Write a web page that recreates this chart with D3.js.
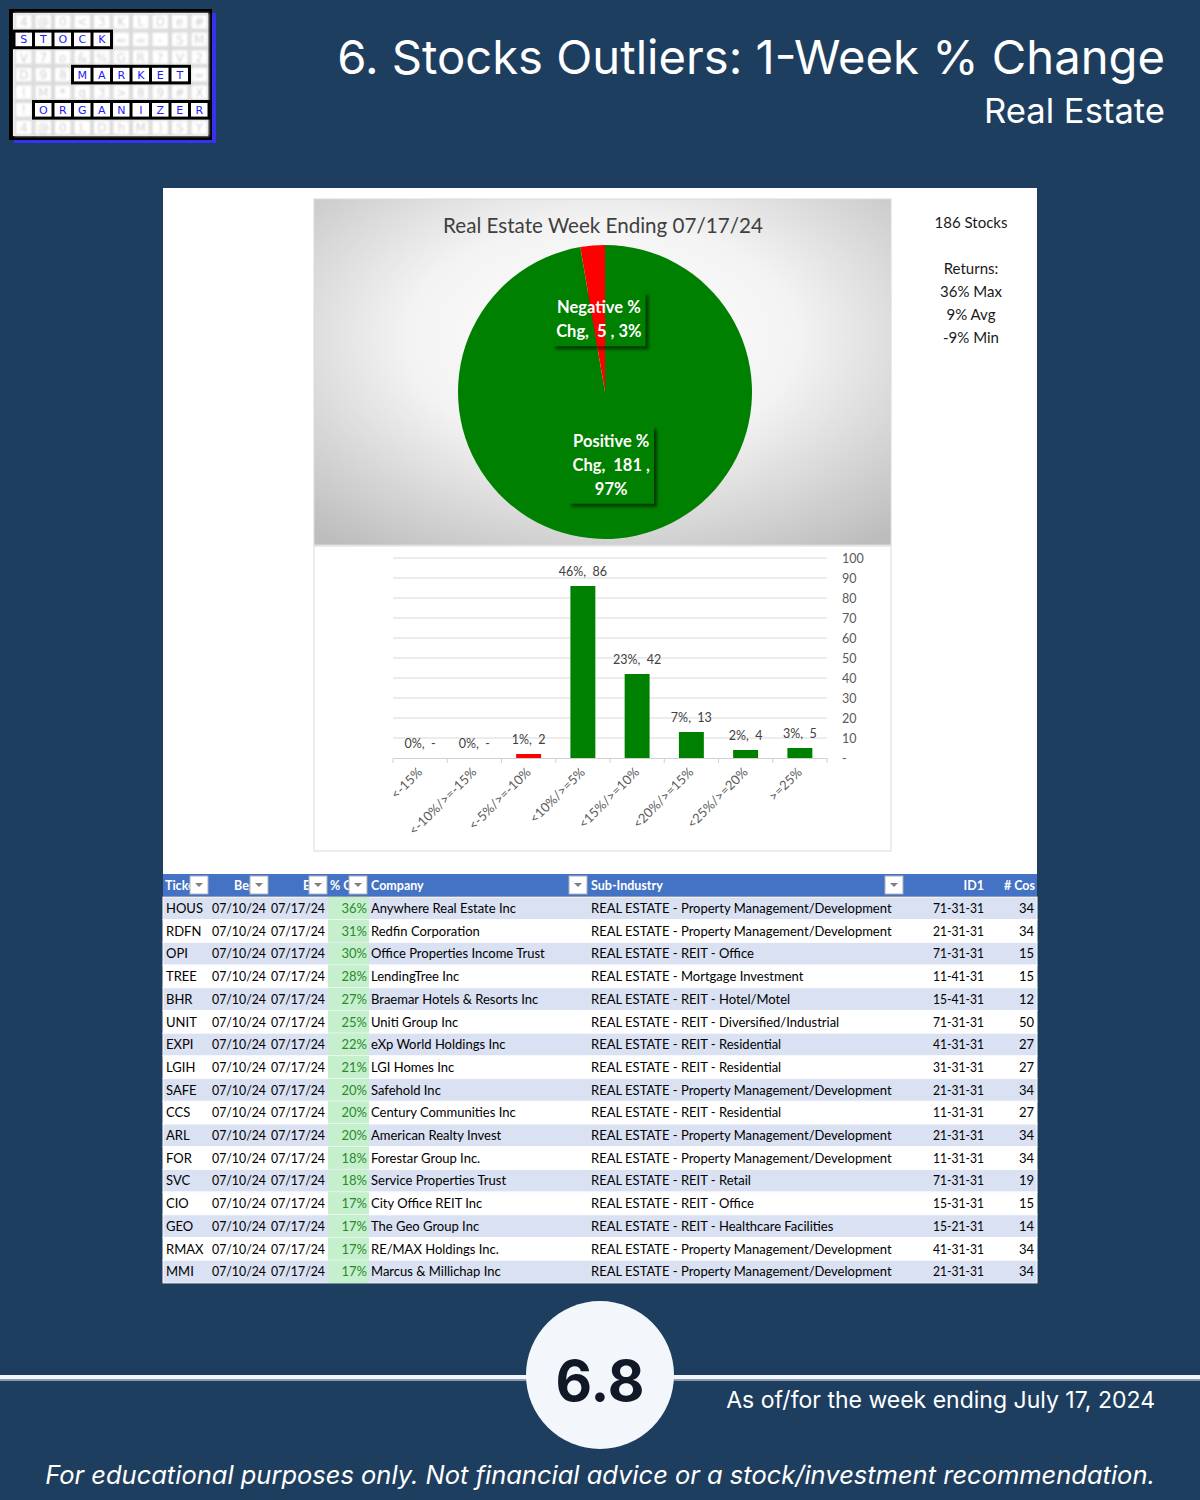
<!DOCTYPE html>
<html>
<head>
<meta charset="utf-8">
<script src="https://cdn.jsdelivr.net/npm/d3@7"></script>
<style>
  body { margin: 0; background: #1e3e5f; }
  svg { display: block; }
  text { white-space: pre; }
</style>
</head>
<body>
<svg id="chart" width="1200" height="1500"></svg>
<script>
// ---- data ----
const pageTitle = "6. Stocks Outliers: 1-Week % Change";
const pageSubtitle = "Real Estate";
const pieTitle = "Real Estate Week Ending 07/17/24";
const pieNames = ["Positive % Chg", "Negative % Chg"];
const pieCounts = [181, 5];
const piePcts = ["97%", "3%"];

const statsLines = ["186 Stocks", "", "Returns:", "36% Max", "9% Avg", "-9% Min"];

const binLabels = ["<-15%", "<-10%/>=-15%", "<-5%/>=-10%", "<10%/>=5%", "<15%/>=10%", "<20%/>=15%", "<25%/>=20%", ">=25%"];
const binCounts = [0, 0, 2, 86, 42, 13, 4, 5];
const binPcts = ["0%", "0%", "1%", "46%", "23%", "7%", "2%", "3%"];
const binNegative = [true, true, true, false, false, false, false, false];
const yTicks = [0, 10, 20, 30, 40, 50, 60, 70, 80, 90, 100];

const headers = ["Ticker", "Begin", "End", "% Chg", "Company", "Sub-Industry", "ID1", "# Cos"];
const beginDate = "07/10/24";
const endDate = "07/17/24";
const tickers = ["HOUS", "RDFN", "OPI", "TREE", "BHR", "UNIT", "EXPI", "LGIH", "SAFE", "CCS", "ARL", "FOR", "SVC", "CIO", "GEO", "RMAX", "MMI"];
const changes = ["36%", "31%", "30%", "28%", "27%", "25%", "22%", "21%", "20%", "20%", "20%", "18%", "18%", "17%", "17%", "17%", "17%"];
const companies = ["Anywhere Real Estate Inc", "Redfin Corporation", "Office Properties Income Trust", "LendingTree Inc",
  "Braemar Hotels & Resorts Inc", "Uniti Group Inc", "eXp World Holdings Inc", "LGI Homes Inc", "Safehold Inc",
  "Century Communities Inc", "American Realty Invest", "Forestar Group Inc.", "Service Properties Trust",
  "City Office REIT Inc", "The Geo Group Inc", "RE/MAX Holdings Inc.", "Marcus & Millichap Inc"];
const subIndustries = ["REAL ESTATE - Property Management/Development", "REAL ESTATE - Property Management/Development",
  "REAL ESTATE - REIT - Office", "REAL ESTATE - Mortgage Investment", "REAL ESTATE - REIT - Hotel/Motel",
  "REAL ESTATE - REIT - Diversified/Industrial", "REAL ESTATE - REIT - Residential", "REAL ESTATE - REIT - Residential",
  "REAL ESTATE - Property Management/Development", "REAL ESTATE - REIT - Residential",
  "REAL ESTATE - Property Management/Development", "REAL ESTATE - Property Management/Development",
  "REAL ESTATE - REIT - Retail", "REAL ESTATE - REIT - Office", "REAL ESTATE - REIT - Healthcare Facilities",
  "REAL ESTATE - Property Management/Development", "REAL ESTATE - Property Management/Development"];
const ids = ["71-31-31", "21-31-31", "71-31-31", "11-41-31", "15-41-31", "71-31-31", "41-31-31", "31-31-31", "21-31-31",
  "11-31-31", "21-31-31", "11-31-31", "71-31-31", "15-31-31", "15-21-31", "41-31-31", "21-31-31"];
const cosCounts = [34, 34, 15, 15, 12, 50, 27, 27, 34, 27, 34, 34, 19, 15, 14, 34, 34];

const pageNumber = "6.8";
const asOfText = "As of/for the week ending July 17, 2024";
const footerText = "For educational purposes only. Not financial advice or a stock/investment recommendation.";

const logoRows = ["4@0<3KLDe#", "STOCK==-SM", "V7o&%GR?V2", "D98MARKET=", "!M*q3>89#X", "!ORGANIZER", "4@0LDhM)SY"];
const logoWords = [[1, 0, 5], [3, 3, 6], [5, 1, 9]]; // row, first col, length

// ---- setup ----
const svg = d3.select("#chart");
const defs = svg.append("defs");
const sans = "Lato, 'Open Sans', sans-serif";
const poppins = "Inter, 'Open Sans', sans-serif";

function fitWidth(sel, w) {
    const cur = sel.node().getComputedTextLength();
    const fs = parseFloat(sel.attr("font-size"));
    sel.attr("font-size", fs * w / cur);
}

svg.append("rect").attr("width", 1200).attr("height", 1500).attr("fill", "#1e3e5f");
defs.append("filter").attr("id", "blur").append("feGaussianBlur").attr("stdDeviation", 1.4);
defs.append("filter").attr("id", "soft").append("feGaussianBlur").attr("stdDeviation", 0.9);

// ---- logo ----
const logo = svg.append("g");
logo.append("rect").attr("x", 14).attr("y", 13).attr("width", 202).attr("height", 130).attr("fill", "#3434f0");
logo.append("rect").attr("x", 9).attr("y", 9).attr("width", 203).attr("height", 131).attr("fill", "#000");
logo.append("rect").attr("x", 13).attr("y", 13).attr("width", 195).attr("height", 123).attr("fill", "#fff");
const cw = 19.5, ch = 17.6, lx = 14, ly = 13;
const faded = logo.append("g").attr("filter", "url(#soft)");
logoRows.forEach((row, r) => {
    row.split("").forEach((c, i) => {
        faded.append("rect").attr("x", lx + i * cw + 1).attr("y", ly + r * ch + 1)
            .attr("width", cw - 2).attr("height", ch - 2)
            .attr("fill", "#fff").attr("stroke", "#d8d8d8").attr("stroke-width", 2);
        faded.append("text").attr("x", lx + i * cw + cw / 2).attr("y", ly + r * ch + ch / 2 + 4.5)
            .attr("text-anchor", "middle").attr("font-family", "'DejaVu Sans', sans-serif").attr("font-size", 12)
            .attr("fill", "#cfcfcf").text(c);
    });
});
logoWords.forEach(([r, s, n]) => {
    logo.append("rect").attr("x", lx + s * cw - 1.5).attr("y", ly + r * ch - 1)
        .attr("width", n * cw + 3).attr("height", ch + 2).attr("fill", "#000");
    for (let i = s; i < s + n; i++) {
        logo.append("rect").attr("x", lx + i * cw + 1.5).attr("y", ly + r * ch + 2)
            .attr("width", cw - 3).attr("height", ch - 4).attr("fill", "#fff");
        logo.append("text").attr("x", lx + i * cw + cw / 2).attr("y", ly + r * ch + ch / 2 + 4)
            .attr("text-anchor", "middle").attr("font-family", "'DejaVu Sans', sans-serif").attr("font-size", 11)
            .attr("fill", "#1a1aff").text(logoRows[r][i]);
    }
});

// ---- page titles ----
const t1 = svg.append("text").attr("x", 1165).attr("y", 74).attr("text-anchor", "end")
    .attr("font-family", poppins).attr("font-size", 46).attr("fill", "#fff").text(pageTitle);
fitWidth(t1, 828);
const t2 = svg.append("text").attr("x", 1165).attr("y", 123).attr("text-anchor", "end")
    .attr("font-family", poppins).attr("font-size", 32).attr("fill", "#fff").text(pageSubtitle);
fitWidth(t2, 181);

// ---- white panel ----
svg.append("rect").attr("x", 163).attr("y", 188).attr("width", 874).attr("height", 686).attr("fill", "#fff");

// ---- pie ----
const grad = defs.append("radialGradient").attr("id", "pieBg").attr("cx", "50%").attr("cy", "40%").attr("r", "75%");
grad.append("stop").attr("offset", "0%").attr("stop-color", "#ffffff");
grad.append("stop").attr("offset", "45%").attr("stop-color", "#f3f3f3");
grad.append("stop").attr("offset", "100%").attr("stop-color", "#bdbdbd");
svg.append("rect").attr("x", 314).attr("y", 199).attr("width", 577).attr("height", 346)
    .attr("fill", "url(#pieBg)").attr("stroke", "#d9d9d9");

const pt = svg.append("text").attr("x", 603).attr("y", 233).attr("text-anchor", "middle")
    .attr("font-family", sans).attr("font-size", 19).attr("fill", "#3f3f3f").text(pieTitle);
fitWidth(pt, 320);

const pieColors = ["#008000", "#ff0000"];
const pieCx = 605, pieCy = 392, pieR = 147;
const pie = d3.pie().sort(null).value(d => d);
const arcs = pie(pieCounts);
const arc = d3.arc().innerRadius(0).outerRadius(pieR);
const labelArc = d3.arc().innerRadius(73).outerRadius(73);

const pieG = svg.append("g").attr("transform", `translate(${pieCx},${pieCy})`);
pieG.selectAll("path").data(arcs).join("path").attr("d", arc).attr("fill", (d, i) => pieColors[i]);

arcs.forEach((d, i) => {
    const [cx, cy] = labelArc.centroid(d);
    const lines = i === 0
        ? ["Positive %", `Chg,  ${pieCounts[i]} ,`, piePcts[i]]
        : ["Negative %", `Chg,  ${pieCounts[i]} , ${piePcts[i]}`];
    const lh = 24;
    const g = pieG.append("g");
    const txt = g.append("g");
    const top = cy - (lines.length * lh) / 2;
    lines.forEach((l, k) => {
        txt.append("text").attr("x", cx).attr("y", top + k * lh + 18).attr("text-anchor", "middle")
            .attr("font-family", sans).attr("font-weight", "bold").attr("font-size", 16.5)
            .attr("fill", "#fff").text(l);
    });
    const bb = txt.node().getBBox();
    const bx = bb.x - 4, by = top - 3, bw = bb.width + 8, bh = lines.length * lh + 6;
    g.insert("rect", ":first-child").attr("x", bx + 3).attr("y", by + 3).attr("width", bw).attr("height", bh)
        .attr("fill", "#000").attr("opacity", 0.55).attr("filter", "url(#blur)");
    const clipId = "clip" + i;
    defs.append("clipPath").attr("id", clipId).append("rect")
        .attr("x", bx + pieCx).attr("y", by + pieCy).attr("width", bw).attr("height", bh);
    const holder = svg.append("g").attr("clip-path", `url(#${clipId})`);
    const copy = holder.append("g").attr("transform", `translate(${pieCx},${pieCy})`);
    copy.selectAll("path").data(arcs).join("path").attr("d", arc).attr("fill", (d, j) => pieColors[j]);
    copy.node().appendChild(txt.node().cloneNode(true));
});

// ---- stats ----
statsLines.forEach((l, i) => {
    svg.append("text").attr("x", 971).attr("y", 228 + i * 23).attr("text-anchor", "middle")
        .attr("font-family", sans).attr("font-size", 15).attr("fill", "#1a1a1a").text(l);
});

// ---- bar chart ----
svg.append("rect").attr("x", 314).attr("y", 546).attr("width", 577).attr("height", 305)
    .attr("fill", "#fff").attr("stroke", "#d9d9d9");

const x = d3.scaleBand().domain(binLabels).range([393, 827]);
const y = d3.scaleLinear().domain([0, 100]).range([758, 558]);
const barW = x.bandwidth() * 0.46;

svg.append("g").selectAll("line").data(yTicks.slice(1)).join("line")
    .attr("x1", 393).attr("x2", 827).attr("y1", d => y(d)).attr("y2", d => y(d))
    .attr("stroke", "#d9d9d9").attr("stroke-width", 1);

const yAxis = d3.axisRight(y).tickValues(yTicks).tickSize(0).tickPadding(15)
    .tickFormat(d => d === 0 ? "-" : d);
svg.append("g").attr("transform", "translate(827,0)").call(yAxis)
    .call(g => g.select(".domain").remove())
    .call(g => g.selectAll("text").attr("font-family", sans).attr("font-size", 12.5).attr("fill", "#595959"));

const xAxis = d3.axisBottom(x).tickSize(0).tickFormat("");
svg.append("g").attr("transform", `translate(0,${y(0)})`).call(xAxis)
    .call(g => g.select(".domain").attr("stroke", "#d0d0d0"));
svg.append("g").selectAll("line").data(d3.range(binLabels.length + 1)).join("line")
    .attr("x1", i => 393 + i * x.step()).attr("x2", i => 393 + i * x.step())
    .attr("y1", y(0)).attr("y2", y(0) + 5).attr("stroke", "#d0d0d0");

svg.append("g").selectAll("rect").data(binLabels).join("rect")
    .attr("x", d => x(d) + (x.bandwidth() - barW) / 2)
    .attr("width", barW)
    .attr("y", (d, i) => y(binCounts[i]))
    .attr("height", (d, i) => Math.max(y(0) - y(binCounts[i]), 0))
    .attr("fill", (d, i) => binNegative[i] ? "#ff0000" : "#008000");

svg.append("g").selectAll("text").data(binLabels).join("text")
    .attr("x", d => x(d) + x.bandwidth() / 2)
    .attr("y", (d, i) => y(binCounts[i]) - 10)
    .attr("text-anchor", "middle").attr("font-family", sans).attr("font-size", 12.5).attr("fill", "#404040")
    .text((d, i) => `${binPcts[i]},  ${binCounts[i] === 0 ? "-" : binCounts[i]}`);

svg.append("g").selectAll("text").data(binLabels).join("text")
    .attr("transform", d => `translate(${x(d) + x.bandwidth() / 2 + 3},${y(0) + 15}) rotate(-45)`)
    .attr("text-anchor", "end").attr("font-family", sans).attr("font-size", 13).attr("fill", "#595959")
    .text(d => d);

// ---- table ----
const tableX = 163, tableW = 874, headY = 874, headH = 22, rowY = 897, rowH = 22.7;
svg.append("rect").attr("x", tableX).attr("y", headY).attr("width", tableW).attr("height", headH).attr("fill", "#4472c4");

const headerPos = [[165, "start"], [234, "start"], [303, "start"], [330, "start"], [371, "start"], [591, "start"], [984, "end"], [1035, "end"]];
headers.forEach((h, i) => {
    svg.append("text").attr("x", headerPos[i][0]).attr("y", headY + 16).attr("text-anchor", headerPos[i][1])
        .attr("font-family", sans).attr("font-weight", "bold").attr("font-size", 12.5).attr("fill", "#fff").text(h);
});
const buttons = [190, 250, 309, 349, 569, 885];
buttons.forEach(bx => {
    svg.append("rect").attr("x", bx).attr("y", headY + 2).attr("width", 18).attr("height", 18)
        .attr("fill", "#fff").attr("stroke", "#b0b0b0");
    svg.append("path").attr("d", `M${bx + 5},${headY + 9}L${bx + 13},${headY + 9}L${bx + 9},${headY + 13}Z`)
        .attr("fill", "#808080");
});

const rows = svg.append("g");
tickers.forEach((t, i) => {
    const ry = rowY + i * rowH;
    rows.append("rect").attr("x", tableX).attr("y", ry).attr("width", tableW).attr("height", rowH)
        .attr("fill", i % 2 === 0 ? "#d9e1f2" : "#fff").attr("stroke", "#fff").attr("stroke-width", 1);
    rows.append("rect").attr("x", 328).attr("y", ry).attr("width", 41).attr("height", rowH).attr("fill", "#c6efce");
    const by = ry + 16;
    const cell = (xx, anchor, txt, color) => rows.append("text").attr("x", xx).attr("y", by)
        .attr("text-anchor", anchor).attr("font-family", sans).attr("font-size", 13)
        .attr("fill", color || "#000").text(txt);
    cell(166, "start", t);
    cell(212, "start", beginDate).attr("textLength", 54).attr("lengthAdjust", "spacingAndGlyphs");
    cell(271, "start", endDate).attr("textLength", 54).attr("lengthAdjust", "spacingAndGlyphs");
    cell(367, "end", changes[i], "#2a8a2a");
    cell(371, "start", companies[i]);
    cell(591, "start", subIndustries[i]);
    cell(984, "end", ids[i]).attr("textLength", 51).attr("lengthAdjust", "spacingAndGlyphs");
    cell(1034, "end", cosCounts[i]);
});

// ---- bottom ----
svg.append("rect").attr("x", 0).attr("y", 1378).attr("width", 1200).attr("height", 3).attr("fill", "#8a9bb0");
svg.append("rect").attr("x", 0).attr("y", 1375).attr("width", 1200).attr("height", 4).attr("fill", "#f3f6fb");
svg.append("circle").attr("cx", 600).attr("cy", 1375).attr("r", 74).attr("fill", "#f3f6fb");
const pn = svg.append("text").attr("x", 600).attr("y", 1401).attr("text-anchor", "middle")
    .attr("font-family", poppins).attr("font-weight", "bold").attr("font-size", 62).attr("fill", "#111827").text(pageNumber);
fitWidth(pn, 89);
const asOf = svg.append("text").attr("x", 1155).attr("y", 1408).attr("text-anchor", "end")
    .attr("font-family", poppins).attr("font-size", 22).attr("fill", "#fff").text(asOfText);
fitWidth(asOf, 429);
const foot = svg.append("text").attr("x", 600).attr("y", 1484).attr("text-anchor", "middle")
    .attr("font-family", poppins).attr("font-style", "italic").attr("font-size", 24).attr("fill", "#fff").text(footerText);
fitWidth(foot, 1110);
</script>
</body>
</html>
